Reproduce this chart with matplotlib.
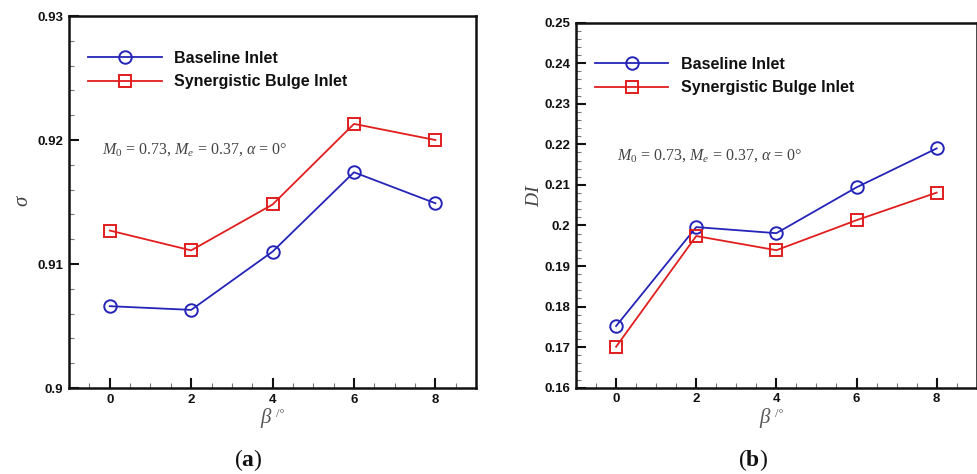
import matplotlib

matplotlib.use("Agg")

import matplotlib.pyplot as plt
from matplotlib.ticker import FuncFormatter, MultipleLocator

# beta (deg)
beta = [0, 2, 4, 6, 8]

# total pressure recovery sigma
sigma_baseline = [0.9066, 0.9063, 0.9110, 0.9174, 0.9149]
sigma_bulge = [0.9127, 0.9111, 0.9148, 0.9213, 0.9200]

# distortion index DI
di_baseline = [0.1752, 0.1996, 0.1981, 0.2094, 0.2190]
di_bulge = [0.1701, 0.1974, 0.1939, 0.2013, 0.2081]

labels = ["Baseline Inlet", "Synergistic Bulge Inlet"]
BLUE = "#2424b8"
RED = "#e01e1e"

plt.rcParams["mathtext.fontset"] = "custom"
plt.rcParams["mathtext.rm"] = "Liberation Serif"
plt.rcParams["mathtext.it"] = "Liberation Serif:italic"
plt.rcParams["mathtext.bf"] = "Liberation Serif:bold"
plt.rcParams["font.family"] = "Liberation Sans"

fig = plt.figure(figsize=(9.78, 4.74), dpi=100)
ax_a = fig.add_axes([0.0706, 0.1814, 0.4162, 0.7848])
ax_b = fig.add_axes([0.5890, 0.1821, 0.4097, 0.7700])


def style(ax, ylim, ymajor, yminor):
    ax.set_xlim(-1, 9)
    ax.set_ylim(*ylim)
    ax.xaxis.set_major_locator(MultipleLocator(2))
    ax.xaxis.set_minor_locator(MultipleLocator(0.5))
    ax.yaxis.set_major_locator(MultipleLocator(ymajor))
    ax.yaxis.set_minor_locator(MultipleLocator(yminor))
    ax.yaxis.set_major_formatter(FuncFormatter(lambda v, _: f"{round(v, 4):g}"))
    ax.tick_params(which="both", direction="in", top=False, right=False)
    ax.tick_params(which="major", length=7, width=1.5, pad=4, color="#111111",
                   labelsize=9.5, labelcolor="#111111")
    ax.tick_params(which="minor", length=3.5, width=0.8, color="#777777")
    for lab in ax.get_xticklabels() + ax.get_yticklabels():
        lab.set_fontweight("bold")
    for sp in ax.spines.values():
        sp.set_linewidth(1.8)
        sp.set_color("#111111")


def curves(ax, ya, yb, legend_top):
    ax.plot(beta, ya, color=BLUE, lw=1.3, marker="o", ms=9, mfc="none",
            mew=1.4, label=labels[0])
    ax.plot(beta, yb, color=RED, lw=1.3, marker="s", ms=8.3, mfc="none",
            mew=1.4, label=labels[1])
    leg = ax.legend(loc="upper left", bbox_to_anchor=(0.047, legend_top),
                    frameon=False, handlelength=4.6, handletextpad=0.8,
                    labelspacing=0.55, borderpad=0, borderaxespad=0,
                    prop={"weight": "bold", "size": 11.5})
    for t in leg.get_texts():
        t.set_color("#111111")


cond = r"$M_0$ = 0.73, $M_e$ = 0.37, $\alpha$ = 0°"

# (a) sigma
curves(ax_a, sigma_baseline, sigma_bulge, 0.907)
style(ax_a, (0.9, 0.93), 0.01, 0.002)
ax_a.text(0.081, 0.64, cond, transform=ax_a.transAxes, fontsize=11.5,
          family="Liberation Serif", color="#444444", va="center")

# (b) DI
curves(ax_b, di_baseline, di_bulge, 0.907)
style(ax_b, (0.16, 0.25), 0.01, 0.002)
ax_b.text(0.102, 0.637, cond, transform=ax_b.transAxes, fontsize=11.5,
          family="Liberation Serif", color="#444444", va="center")

# axis labels
fig.text(0.0225, 0.578, r"$\sigma$", rotation=90, fontsize=15,
         color="#444444", ha="center", va="center")
fig.text(0.547, 0.589, r"$DI$", rotation=90, fontsize=14,
         color="#444444", ha="center", va="center")
for xc in (0.283, 0.793):
    fig.text(xc - 0.004, 0.119, r"$\beta$", fontsize=15, color="#555555",
             ha="right", va="center")
    fig.text(xc - 0.001, 0.126, "/°", fontsize=9, color="#555555",
             ha="left", va="center", family="Liberation Serif")

# panel captions
for xc, letter in ((0.2536, "a"), (0.770, "b")):
    fig.text(xc, 0.0295, rf"($\mathbf{{{letter}}}$)", fontsize=17,
             ha="center", va="center", family="Liberation Serif",
             color="#111111")

fig.savefig("out.png", dpi=100)
